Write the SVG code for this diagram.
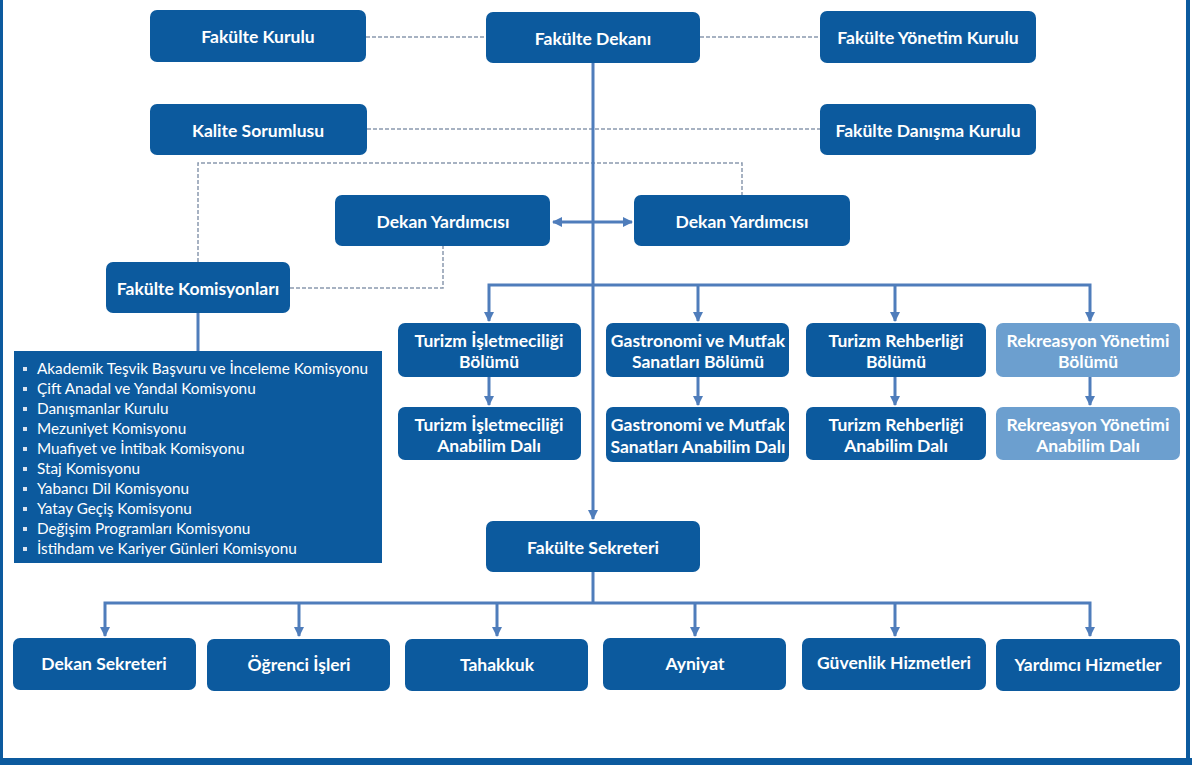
<svg xmlns="http://www.w3.org/2000/svg" width="1192" height="765" viewBox="0 0 1192 765">
<defs>
<style>
.n{fill:#0c5a9e}
.l{fill:#6c9fcf}
.t{font-family:Lato,"Liberation Sans",sans-serif;font-weight:bold;font-size:17.5px;fill:#fff;text-anchor:middle;dominant-baseline:central}
.li{font-family:Lato,"Liberation Sans",sans-serif;font-size:15.3px;fill:#fff}
.c{stroke:#4f7dbb;stroke-width:3;fill:none}
.d{stroke:#8a99ae;stroke-width:1.5;fill:none;stroke-dasharray:4 2}
.b{fill:#d9e3f0}
</style>
<marker id="a" markerUnits="userSpaceOnUse" markerWidth="12" markerHeight="12" refX="9" refY="6" orient="auto-start-reverse">
<path d="M0,1 L10,6 L0,11 Z" fill="#4f7dbb"/>
</marker>
</defs>
<rect width="1192" height="765" fill="#fff"/>
<rect x="0" y="0" width="3" height="765" fill="#0c5a9e"/>
<rect x="1186" y="0" width="4" height="765" fill="#0c5a9e"/>
<rect x="0" y="758" width="1192" height="7" fill="#0c5a9e"/>

<g id="connectors">
<path class="d" d="M366,37 H486"/>
<path class="d" d="M700,37 H820"/>
<path class="d" d="M367,129 H820"/>
<path class="d" d="M198,262 V163 H742 V195"/>
<path class="d" d="M290,288 H443 V246"/>
<path class="c" d="M593,63 V519" marker-end="url(#a)"/>
<path class="c" d="M553,222 H632" marker-start="url(#a)" marker-end="url(#a)"/>
<path class="c" d="M198,313 V351"/>
<path class="c" d="M489,321 V285 H1090 V321" marker-start="url(#a)" marker-end="url(#a)"/>
<path class="c" d="M698,285 V321" marker-end="url(#a)"/>
<path class="c" d="M895,285 V321" marker-end="url(#a)"/>
<path class="c" d="M489,377 V405" marker-end="url(#a)"/>
<path class="c" d="M698,377 V405" marker-end="url(#a)"/>
<path class="c" d="M895,377 V405" marker-end="url(#a)"/>
<path class="c" d="M1090,377 V405" marker-end="url(#a)"/>
<path class="c" d="M593,572 V603"/>
<path class="c" d="M105,636 V603 H1090 V636" marker-start="url(#a)" marker-end="url(#a)"/>
<path class="c" d="M299,603 V636" marker-end="url(#a)"/>
<path class="c" d="M497,603 V636" marker-end="url(#a)"/>
<path class="c" d="M695,603 V636" marker-end="url(#a)"/>
<path class="c" d="M895,603 V636" marker-end="url(#a)"/>
</g>

<g id="fakulte-kurulu"><rect class="n" x="150" y="10" width="216" height="52" rx="7"/><text class="t" x="258" y="36">Fakülte Kurulu</text></g>
<g id="fakulte-dekani"><rect class="n" x="486" y="12" width="214" height="51" rx="7"/><text class="t" x="593" y="38">Fakülte Dekanı</text></g>
<g id="fakulte-yonetim-kurulu"><rect class="n" x="820" y="11" width="216" height="52" rx="7"/><text class="t" x="928" y="37">Fakülte Yönetim Kurulu</text></g>
<g id="kalite-sorumlusu"><rect class="n" x="150" y="104" width="217" height="51" rx="7"/><text class="t" x="258" y="130">Kalite Sorumlusu</text></g>
<g id="fakulte-danisma-kurulu"><rect class="n" x="820" y="104" width="216" height="51" rx="7"/><text class="t" x="928" y="130">Fakülte Danışma Kurulu</text></g>
<g id="dekan-yardimcisi-1"><rect class="n" x="335" y="195" width="215" height="51" rx="7"/><text class="t" x="443" y="221">Dekan Yardımcısı</text></g>
<g id="dekan-yardimcisi-2"><rect class="n" x="634" y="195" width="216" height="51" rx="7"/><text class="t" x="742" y="221">Dekan Yardımcısı</text></g>
<g id="fakulte-komisyonlari"><rect class="n" x="106" y="262" width="184" height="51" rx="7"/><text class="t" x="198" y="288">Fakülte Komisyonları</text></g>

<g id="komisyon-listesi">
<rect class="n" x="14" y="351" width="368" height="212"/>
<g class="b">
<rect x="23" y="367" width="4" height="4"/><rect x="23" y="387" width="4" height="4"/><rect x="23" y="407" width="4" height="4"/><rect x="23" y="427" width="4" height="4"/><rect x="23" y="447" width="4" height="4"/><rect x="23" y="467" width="4" height="4"/><rect x="23" y="487" width="4" height="4"/><rect x="23" y="507" width="4" height="4"/><rect x="23" y="527" width="4" height="4"/><rect x="23" y="547" width="4" height="4"/>
</g>
<text class="li" x="37" y="374">Akademik Teşvik Başvuru ve İnceleme Komisyonu</text>
<text class="li" x="37" y="394">Çift Anadal ve Yandal Komisyonu</text>
<text class="li" x="37" y="414">Danışmanlar Kurulu</text>
<text class="li" x="37" y="434">Mezuniyet Komisyonu</text>
<text class="li" x="37" y="454">Muafiyet ve İntibak Komisyonu</text>
<text class="li" x="37" y="474">Staj Komisyonu</text>
<text class="li" x="37" y="494">Yabancı Dil Komisyonu</text>
<text class="li" x="37" y="514">Yatay Geçiş Komisyonu</text>
<text class="li" x="37" y="534">Değişim Programları Komisyonu</text>
<text class="li" x="37" y="554">İstihdam ve Kariyer Günleri Komisyonu</text>
</g>

<g id="turizm-isletmeciligi-bolumu"><rect class="n" x="398" y="323" width="183" height="54" rx="7"/><text class="t" x="489" y="340">Turizm İşletmeciliği</text><text class="t" x="489" y="361">Bölümü</text></g>
<g id="gastronomi-bolumu"><rect class="n" x="606" y="323" width="183" height="54" rx="7"/><text class="t" x="698" y="340">Gastronomi ve Mutfak</text><text class="t" x="698" y="361">Sanatları Bölümü</text></g>
<g id="turizm-rehberligi-bolumu"><rect class="n" x="806" y="323" width="180" height="54" rx="7"/><text class="t" x="896" y="340">Turizm Rehberliği</text><text class="t" x="896" y="361">Bölümü</text></g>
<g id="rekreasyon-bolumu"><rect class="l" x="996" y="323" width="184" height="54" rx="7"/><text class="t" x="1088" y="340">Rekreasyon Yönetimi</text><text class="t" x="1088" y="361">Bölümü</text></g>

<g id="turizm-isletmeciligi-abd"><rect class="n" x="398" y="407" width="183" height="53" rx="7"/><text class="t" x="489" y="424">Turizm İşletmeciliği</text><text class="t" x="489" y="445">Anabilim Dalı</text></g>
<g id="gastronomi-abd"><rect class="n" x="606" y="407" width="183" height="55" rx="7"/><text class="t" x="698" y="424">Gastronomi ve Mutfak</text><text class="t" x="698" y="446">Sanatları Anabilim Dalı</text></g>
<g id="turizm-rehberligi-abd"><rect class="n" x="806" y="407" width="180" height="53" rx="7"/><text class="t" x="896" y="424">Turizm Rehberliği</text><text class="t" x="896" y="445">Anabilim Dalı</text></g>
<g id="rekreasyon-abd"><rect class="l" x="996" y="407" width="184" height="53" rx="7"/><text class="t" x="1088" y="424">Rekreasyon Yönetimi</text><text class="t" x="1088" y="445">Anabilim Dalı</text></g>

<g id="fakulte-sekreteri"><rect class="n" x="486" y="521" width="214" height="51" rx="7"/><text class="t" x="593" y="547">Fakülte Sekreteri</text></g>

<g id="dekan-sekreteri"><rect class="n" x="13" y="638" width="183" height="52" rx="7"/><text class="t" x="104" y="663">Dekan Sekreteri</text></g>
<g id="ogrenci-isleri"><rect class="n" x="207" y="639" width="183" height="52" rx="7"/><text class="t" x="299" y="664">Öğrenci İşleri</text></g>
<g id="tahakkuk"><rect class="n" x="405" y="639" width="183" height="52" rx="7"/><text class="t" x="497" y="664">Tahakkuk</text></g>
<g id="ayniyat"><rect class="n" x="603" y="638" width="183" height="52" rx="7"/><text class="t" x="695" y="663">Ayniyat</text></g>
<g id="guvenlik-hizmetleri"><rect class="n" x="802" y="638" width="184" height="52" rx="7"/><text class="t" x="894" y="662">Güvenlik Hizmetleri</text></g>
<g id="yardimci-hizmetler"><rect class="n" x="996" y="639" width="184" height="52" rx="7"/><text class="t" x="1088" y="664">Yardımcı Hizmetler</text></g>
</svg>
